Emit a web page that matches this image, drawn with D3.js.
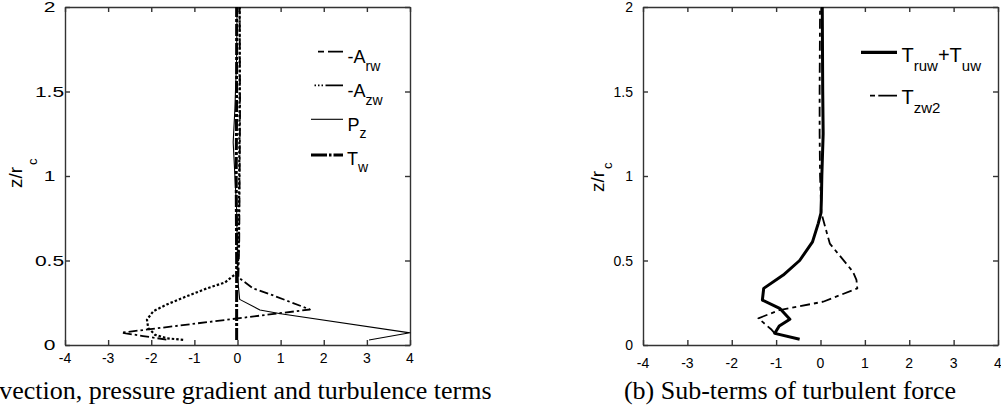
<!DOCTYPE html>
<html>
<head>
<meta charset="utf-8">
<script src="https://cdn.jsdelivr.net/npm/d3@7"></script>
<style>
  body { margin: 0; background: #fff; }
  text { font-family: "Liberation Sans", Arial, sans-serif; fill: #000; }
  .cap { font-family: "Liberation Serif", "Times New Roman", serif; }
</style>
</head>
<body>
<svg id="fig" width="1001" height="416"></svg>
<script>
// ---- shared axis ticks ----
const xTicks = [-4, -3, -2, -1, 0, 1, 2, 3, 4];
const xTickLabels = ["-4", "-3", "-2", "-1", "0", "1", "2", "3", "4"];
const yTicks = [0, 0.5, 1, 1.5, 2];
const yTickLabels = ["0", "0.5", "1", "1.5", "2"];

// ---- panel (a): convection, pressure gradient and turbulence terms ----
const zArw = [0.032, 0.053, 0.073, 0.21, 0.30, 0.335, 0.40, 0.6, 1.0, 1.4, 2.0];
const vArw = [-1.65, -2.19, -2.69, 1.68, 0.76, 0.36, 0.02, 0.04, 0.05, 0.06, 0.05];

const zAzw = [0.03, 0.04, 0.06, 0.10, 0.15, 0.20, 0.24, 0.28, 0.335, 0.37, 0.43, 0.6, 1.0, 1.5, 2.0];
const vAzw = [-1.26, -1.64, -1.91, -2.07, -2.1, -1.95, -1.64, -1.26, -0.71, -0.29, 0.0, 0.03, 0.04, 0.05, 0.05];

const zPz = [0.03, 0.072, 0.185, 0.207, 0.27, 0.35, 0.5, 0.8, 1.0, 1.2, 1.4, 1.7, 2.0];
const vPz = [3.05, 4.0, 1.0, 0.52, 0.05, 0.02, 0.0, -0.02, -0.06, -0.1, -0.06, -0.02, -0.01];

const zTw = [0.03, 0.1, 0.2, 0.3, 0.5, 1.0, 1.5, 2.0];
const vTw = [-0.02, -0.02, -0.02, -0.02, -0.02, -0.03, -0.02, -0.02];

// ---- panel (b): sub-terms of turbulent force ----
const zTruw = [0.034, 0.069, 0.112, 0.152, 0.217, 0.266, 0.335, 0.414, 0.50, 0.61, 0.72, 0.78, 0.86, 1.0, 1.25, 1.5, 2.0];
const vTruw = [-0.47, -1.03, -0.93, -0.69, -0.92, -1.31, -1.28, -0.84, -0.47, -0.18, -0.05, 0.01, 0.02, 0.03, 0.06, 0.05, 0.04];

const zTzw2 = [0.069, 0.09, 0.158, 0.207, 0.256, 0.335, 0.385, 0.434, 0.60, 0.78, 1.0, 1.25, 1.5, 2.0];
const vTzw2 = [-1.03, -1.1, -1.4, -0.92, 0.06, 0.83, 0.81, 0.73, 0.21, 0.02, -0.01, -0.02, -0.02, -0.01];

const svg = d3.select("#fig");
const zip = (zs, vs) => zs.map((z, i) => ({ z, v: vs[i] }));

function panel(opt) {
  const x = d3.scaleLinear().domain([-4, 4]).range(opt.xRange);
  const y = d3.scaleLinear().domain([0, 2]).range([345, 7]);
  const g = svg.append("g");
  const frame = (sel) => sel.selectAll("path.domain, line").attr("stroke", "#333").attr("stroke-width", 1.4);

  // four framing axes, ticks pointing inward
  g.append("g").attr("transform", `translate(0,${y(0)})`)
    .call(d3.axisBottom(x).tickValues(xTicks).tickSizeInner(-5).tickSizeOuter(0).tickFormat(""))
    .call(frame);
  g.append("g").attr("transform", `translate(0,${y(2)})`)
    .call(d3.axisTop(x).tickValues(xTicks).tickSizeInner(-5).tickSizeOuter(0).tickFormat(""))
    .call(frame);
  g.append("g").attr("transform", `translate(${x(-4)},0)`)
    .call(d3.axisLeft(y).tickValues(yTicks).tickSizeInner(-5).tickSizeOuter(0).tickFormat(""))
    .call(frame);
  g.append("g").attr("transform", `translate(${x(4)},0)`)
    .call(d3.axisRight(y).tickValues(yTicks).tickSizeInner(-5).tickSizeOuter(0).tickFormat(""))
    .call(frame);

  // tick labels
  g.selectAll("text.xt").data(xTicks).join("text")
    .attr("x", d => x(d)).attr("y", opt.xLabelBase)
    .attr("text-anchor", "middle").attr("font-size", 14)
    .text((d, i) => xTickLabels[i]);
  g.selectAll("text.yt").data(yTicks).join("text")
    .attr("transform", d => `translate(${opt.yLabelX},${y(d)}) scale(${opt.yLabelScale},1)`)
    .attr("text-anchor", opt.yLabelAnchor).attr("dy", "0.36em").attr("font-size", 14)
    .text((d, i) => yTickLabels[i]);

  // y axis title z/r_c
  const yt = g.append("text")
    .attr("transform", `translate(${opt.yTitle[0]},${opt.yTitle[1]}) rotate(-90)`)
    .attr("font-size", 19);
  yt.append("tspan").text("z/r");
  yt.append("tspan").attr("font-size", 13).attr("dx", 2).attr("dy", opt.yTitleSub).text("c");

  const line = d3.line().x(d => x(d.v)).y(d => y(d.z));
  opt.series.forEach(s => {
    g.append("path").datum(zip(s.z, s.v))
      .attr("d", line).attr("fill", "none").attr("stroke", "#000")
      .attr("stroke-width", s.w).attr("stroke-dasharray", s.dash || null)
      .attr("stroke-linejoin", "round");
  });

  // legend
  opt.legend.forEach(e => {
    g.append("line")
      .attr("x1", e.x1).attr("x2", e.x2).attr("y1", e.ly).attr("y2", e.ly)
      .attr("stroke", "#000").attr("stroke-width", e.w)
      .attr("stroke-dasharray", e.dash || null);
    const t = g.append("text").attr("x", e.tx).attr("y", e.base).attr("font-size", opt.legFont);
    let low = false;
    e.parts.forEach(p => {
      const ts = t.append("tspan").text(p.t);
      if (p.sub && !low) { ts.attr("dy", opt.subDy).attr("font-size", opt.subFont); low = true; }
      else if (p.sub) { ts.attr("font-size", opt.subFont); }
      else if (low) { ts.attr("dy", -opt.subDy); low = false; }
    });
  });

  g.append("text").attr("class", "cap")
    .attr("x", opt.cap[0]).attr("y", 399).attr("text-anchor", "middle")
    .attr("font-size", 26).text(opt.caption);
}

panel({
  xRange: [65, 410],
  xLabelBase: 363,
  yLabelX: 49.5, yLabelScale: 1.5, yLabelAnchor: "middle",
  yTitle: [22, 188], yTitleSub: 15,
  series: [
    { z: zPz, v: vPz, w: 1.1 },
    { z: zAzw, v: vAzw, w: 2.2, dash: "2.5,2" },
    { z: zArw, v: vArw, w: 1.8, dash: "9,3,2.5,3" },
    { z: zTw, v: vTw, w: 3, dash: "12,2,3,2" }
  ],
  legFont: 18, subFont: 14, subDy: 7.5,
  legend: [
    { x1: 311, x2: 343, ly: 51.7, w: 1.8, dash: "0,7,6,4,16", tx: 347.5, base: 63, parts: [{ t: "-A" }, { t: "rw", sub: true }] },
    { x1: 311, x2: 343, ly: 85.3, w: 1.8, dash: "0,3.5,1.5,2,1.5,2,1.5,2.5,20", tx: 347.5, base: 97, parts: [{ t: "-A" }, { t: "zw", sub: true }] },
    { x1: 311, x2: 343, ly: 119.3, w: 1.1, tx: 347.5, base: 130.5, parts: [{ t: "P" }, { t: "z", sub: true }] },
    { x1: 311, x2: 343, ly: 155, w: 3, dash: "16,2,2.5,2,20", tx: 347, base: 164.5, parts: [{ t: "T" }, { t: "w", sub: true }] }
  ],
  cap: [206], caption: "(a) Convection, pressure gradient and turbulence terms"
});

panel({
  xRange: [643, 998],
  xLabelBase: 368,
  yLabelX: 633, yLabelScale: 1, yLabelAnchor: "end",
  yTitle: [603.5, 192], yTitleSub: 8.5,
  series: [
    { z: zTzw2, v: vTzw2, w: 1.8, dash: "10,4,4,4" },
    { z: zTruw, v: vTruw, w: 3 }
  ],
  legFont: 20, subFont: 15, subDy: 9.3,
  legend: [
    { x1: 861, x2: 897, ly: 52.3, w: 3.3, tx: 901.5, base: 61.7, parts: [{ t: "T" }, { t: "ruw", sub: true }, { t: "+T" }, { t: "uw", sub: true }] },
    { x1: 861, x2: 897, ly: 95.7, w: 1.8, dash: "0,9,5,3.3,19", tx: 901.5, base: 103.5, parts: [{ t: "T" }, { t: "zw2", sub: true }] }
  ],
  cap: [790], caption: "(b) Sub-terms of turbulent force"
});
</script>
</body>
</html>
